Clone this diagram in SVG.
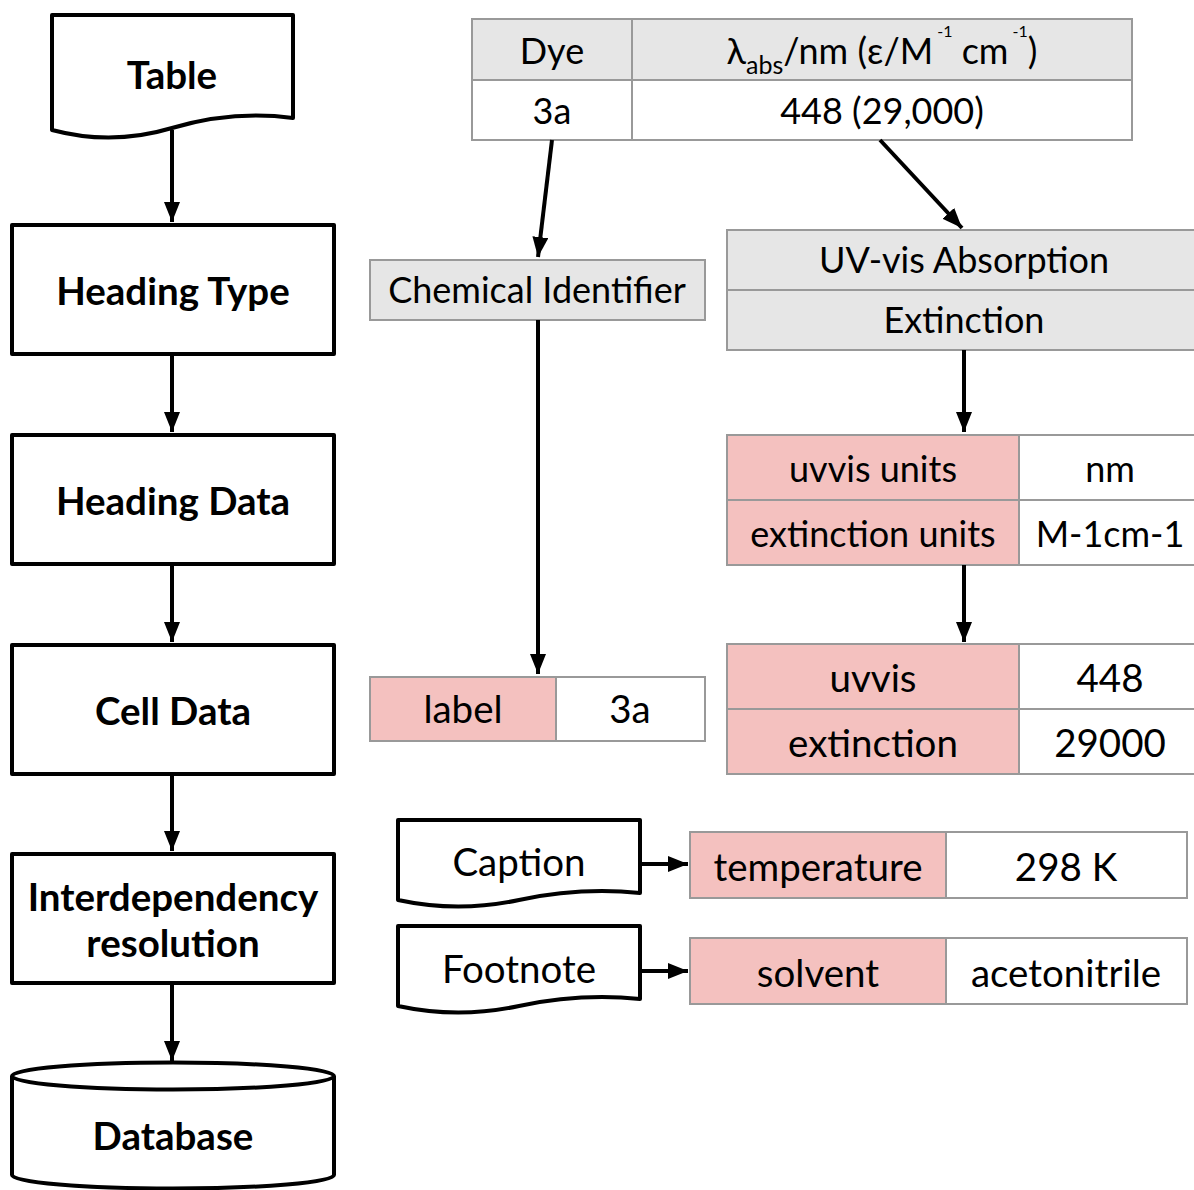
<svg xmlns="http://www.w3.org/2000/svg" width="1194" height="1190" viewBox="0 0 1194 1190">
<defs>
<marker id="ah" markerUnits="userSpaceOnUse" markerWidth="20" markerHeight="16" refX="20" refY="8" orient="auto"><path d="M0,0 L20,8 L0,16 z" fill="#000"/></marker>
<style>
.blk{fill:#fff;stroke:#000;stroke-width:4;stroke-linejoin:round}
.bt{font-family:Lato,"Open Sans",sans-serif;font-weight:bold;font-size:38.5px;text-anchor:middle;fill:#000}
.rt{font-family:Lato,"Open Sans",sans-serif;font-size:36px;text-anchor:middle;fill:#000}
.rt2{font-family:Lato,"Open Sans",sans-serif;font-size:38.5px;text-anchor:middle;fill:#000}
.g{fill:#e6e6e6;stroke:#999;stroke-width:2}
.p{fill:#f4c1bf;stroke:#999;stroke-width:2}
.w{fill:#fff;stroke:#999;stroke-width:2}
.c{stroke:#000;stroke-width:4;fill:none;marker-end:url(#ah)}
</style>
</defs>
<rect width="1194" height="1190" fill="#fff"/>
<g id="table-doc"><path class="blk" d="M52,15 H293 V118 Q233,110 172,128 Q112,146 52,130 Z"/><text class="bt" x="172" y="89">Table</text></g>
<g id="heading-type"><rect class="blk" x="12" y="225" width="322" height="129"/><text class="bt" x="173" y="305">Heading Type</text></g>
<g id="heading-data"><rect class="blk" x="12" y="435" width="322" height="129"/><text class="bt" x="173" y="515">Heading Data</text></g>
<g id="cell-data"><rect class="blk" x="12" y="645" width="322" height="129"/><text class="bt" x="173" y="725">Cell Data</text></g>
<g id="interdependency"><rect class="blk" x="12" y="854" width="322" height="129"/><text class="bt" x="173" y="911">Interdependency</text><text class="bt" x="173" y="957">resolution</text></g>
<g id="database"><path class="blk" d="M12,1076 V1175 A161,13.5 0 0 0 334,1175 V1076"/><ellipse class="blk" cx="173" cy="1076" rx="161" ry="13.5"/><text class="bt" x="173" y="1150">Database</text></g>

<g id="source-table">
<rect class="g" x="472" y="19" width="160" height="61"/><rect class="g" x="632" y="19" width="500" height="61"/>
<rect class="w" x="472" y="80" width="160" height="60"/><rect class="w" x="632" y="80" width="500" height="60"/>
<text class="rt" x="552" y="64">Dye</text>
<text class="rt" x="882" y="64">λ<tspan dy="10" font-size="25">abs</tspan><tspan dy="-10">/nm (ε/M</tspan><tspan dy="-27" font-size="16"> -1</tspan><tspan dy="27"> cm</tspan><tspan dy="-27" font-size="16"> -1</tspan><tspan dy="27">)</tspan></text>
<text class="rt" x="552" y="124">3a</text>
<text class="rt" x="882" y="124">448 (29,000)</text>
</g>
<g id="chemical-identifier"><rect class="g" x="370" y="260" width="335" height="60"/><text class="rt" x="537" y="303">Chemical Identifier</text></g>
<g id="uvvis-heading"><rect class="g" x="727" y="230" width="480" height="60"/><rect class="g" x="727" y="290" width="480" height="60"/><text class="rt" x="964" y="273">UV-vis Absorption</text><text class="rt" x="964" y="333">Extinction</text></g>
<g id="label-cell"><rect class="p" x="370" y="677" width="186" height="64"/><rect class="w" x="556" y="677" width="149" height="64"/><text class="rt2" x="463" y="723">label</text><text class="rt2" x="630" y="723">3a</text></g>
<g id="units-table"><rect class="p" x="727" y="435" width="292" height="65"/><rect class="w" x="1019" y="435" width="190" height="65"/><rect class="p" x="727" y="500" width="292" height="65"/><rect class="w" x="1019" y="500" width="190" height="65"/>
<text class="rt" x="873" y="482">uvvis units</text><text class="rt" x="1110" y="482">nm</text><text class="rt" x="873" y="547">extinction units</text><text class="rt" x="1110" y="547">M-1cm-1</text></g>
<g id="values-table"><rect class="p" x="727" y="644" width="292" height="65"/><rect class="w" x="1019" y="644" width="190" height="65"/><rect class="p" x="727" y="709" width="292" height="65"/><rect class="w" x="1019" y="709" width="190" height="65"/>
<text class="rt2" x="873" y="692">uvvis</text><text class="rt2" x="1110" y="692">448</text><text class="rt2" x="873" y="757">extinction</text><text class="rt2" x="1110" y="757">29000</text></g>
<g id="caption"><path class="blk" d="M398,820 H640 V893 Q580,887 519,900 Q458,913 398,900 Z"/><text class="rt2" x="519" y="876">Caption</text></g>
<g id="temperature"><rect class="p" x="690" y="832" width="256" height="66"/><rect class="w" x="946" y="832" width="241" height="66"/><text class="rt2" x="818" y="881">temperature</text><text class="rt2" x="1066" y="881">298 K</text></g>
<g id="footnote"><path class="blk" d="M398,926 H640 V999 Q580,993 519,1006 Q458,1019 398,1006 Z"/><text class="rt2" x="519" y="983">Footnote</text></g>
<g id="solvent"><rect class="p" x="690" y="938" width="256" height="66"/><rect class="w" x="946" y="938" width="241" height="66"/><text class="rt2" x="818" y="987">solvent</text><text class="rt2" x="1066" y="987">acetonitrile</text></g>

<g id="connectors">
<path class="c" d="M172,130 V222"/>
<path class="c" d="M172,354 V432"/>
<path class="c" d="M172,564 V642"/>
<path class="c" d="M172,774 V851"/>
<path class="c" d="M172,983 V1061"/>
<path class="c" d="M552,140 L538,257"/>
<path class="c" d="M880,140 L962,228"/>
<path class="c" d="M538,320 V674"/>
<path class="c" d="M964,350 V432"/>
<path class="c" d="M964,565 V642"/>
<path class="c" d="M640,864 H688"/>
<path class="c" d="M640,971 H688"/>
</g>
</svg>
